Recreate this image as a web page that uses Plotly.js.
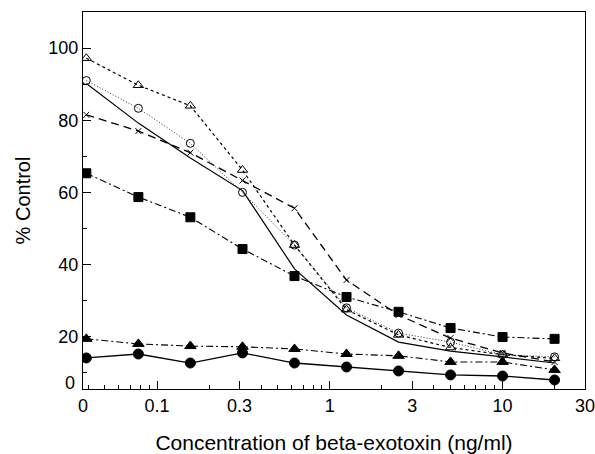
<!DOCTYPE html>
<html>
<head>
<meta charset="utf-8">
<script src="https://cdn.plot.ly/plotly-3.0.1.min.js"></script>
<style>html,body{margin:0;padding:0;background:#fff;}#chart{width:595px;height:454px;}</style>
</head>
<body>
<div id="chart"></div>
<script>
// Concentrations (ng/ml), two-fold dilutions
const conc = [0.039, 0.078, 0.156, 0.3125, 0.625, 1.25, 2.5, 5, 10, 20];

// % Control values
const filledCircles   = [14.1, 15.2, 12.7, 15.5, 12.7, 11.6, 10.5, 9.4, 9.1, 8.0];
const filledTriangles = [19.4, 18.0, 17.4, 17.2, 16.6, 15.2, 14.7, 13.0, 13.0, 10.8];
const filledSquares   = [65.3, 58.7, 53.1, 44.3, 36.8, 31.0, 26.9, 22.4, 19.9, 19.4];
const openTriangles   = [97.2, 89.7, 84.0, 66.2, 45.4, 27.5, 20.5, 17.0, 15.0, 14.0];
const solidNoMarker   = [90.2, 79.2, 69.5, 60.5, 38.8, 26.0, 18.5, 16.0, 14.4, 12.7];
const longDash        = [81.5, 77.0, 71.0, 63.3, 55.6, 35.7, 26.0, 19.6, 15.5, 13.0];
const dottedCircles   = [91.0, 83.3, 73.6, 60.0, 45.4, 28.0, 21.0, 18.5, 15.0, 14.4];

const xTickVals = [0.0373, 0.1, 0.3, 1, 3, 10, 30];
const xTickText = ["0", "0.1", "0.3", "1", "3", "10", "30"];
const yTickVals = [20, 40, 60, 80, 100];
const yTickText = ["20", "40", "60", "80", "100"];

const font = {family: "Liberation Sans, Arial, sans-serif", color: "#000"};

function tr(y, dash, width, symbol, size, color) {
  const t = {
    x: conc, y: y, type: "scatter", mode: symbol ? "lines+markers" : "lines",
    line: {color: color || "#000", width: width, dash: dash},
    showlegend: false, hoverinfo: "skip"
  };
  if (symbol) {
    t.marker = {symbol: symbol, size: size, color: "#000", line: {color: "#000", width: 1}};
  }
  return t;
}

const data = [
  tr(dottedCircles, "1px,2px", 1, "circle-open", 8, "#333"),
  tr(openTriangles, "3px,3px", 1.2, "triangle-up-open", 9),
  tr(longDash, "8px,5px", 1.3, "x-thin-open", 6),
  tr(solidNoMarker, "solid", 1.2, null, 0),
  tr(filledSquares, "7px,3px,2px,3px", 1.1, "square", 9),
  tr(filledTriangles, "7px,3px,2px,3px", 1.1, "triangle-up", 10),
  tr(filledCircles, "solid", 1.3, "circle", 10)
];

const layout = {
  width: 595, height: 454,
  margin: {l: 83, r: 10, t: 12, b: 65},
  paper_bgcolor: "#fff", plot_bgcolor: "#fff",
  font: Object.assign({size: 19}, font),
  showlegend: false,
  xaxis: {
    type: "log",
    range: [Math.log10(0.0373), Math.log10(30)],
    tickvals: xTickVals, ticktext: xTickText,
    ticklabeloverflow: "allow",
    ticks: "inside", ticklen: 8, tickwidth: 1, tickcolor: "#000",
    minor: {ticks: "inside", ticklen: 4, tickcolor: "#000", dtick: "D1"},
    showgrid: false, zeroline: false,
    showline: true, linecolor: "#000", linewidth: 1.2, mirror: true,
    tickfont: Object.assign({size: 18}, font),
    title: {text: "Concentration of beta-exotoxin (ng/ml)", font: Object.assign({size: 21}, font), standoff: 22}
  },
  yaxis: {
    range: [5.5, 110],
    tickvals: yTickVals, ticktext: yTickText,
    ticks: "inside", ticklen: 8, tickwidth: 1, tickcolor: "#000",
    minor: {ticks: "inside", ticklen: 4, tickcolor: "#000", dtick: 10, tick0: 0},
    showgrid: false, zeroline: false,
    showline: true, linecolor: "#000", linewidth: 1.2, mirror: true,
    tickfont: Object.assign({size: 18}, font),
    title: {text: "% Control", font: Object.assign({size: 20}, font), standoff: 12}
  },
  annotations: [{
    xref: "paper", yref: "y", x: 0, y: 7.2, xanchor: "right", yanchor: "middle",
    xshift: -6, text: "0", showarrow: false, font: Object.assign({size: 18}, font)
  }]
};

Plotly.newPlot("chart", data, layout, {staticPlot: true, displayModeBar: false});
</script>
</body>
</html>
